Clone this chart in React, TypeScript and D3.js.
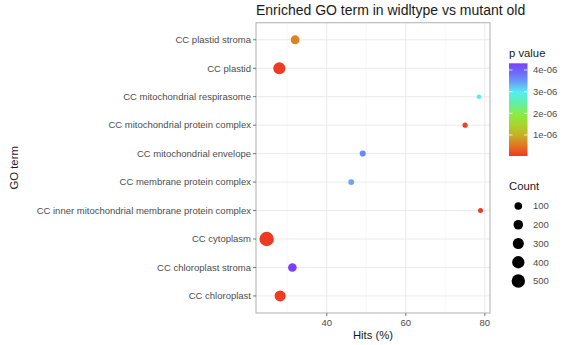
import React from "react";
import * as d3 from "d3";

const terms = [
  "CC plastid stroma",
  "CC plastid",
  "CC mitochondrial respirasome",
  "CC mitochondrial protein complex",
  "CC mitochondrial envelope",
  "CC membrane protein complex",
  "CC inner mitochondrial membrane protein complex",
  "CC cytoplasm",
  "CC chloroplast stroma",
  "CC chloroplast",
];
const hits = [32.0, 28.0, 78.5, 75.0, 49.1, 46.2, 78.9, 24.8, 31.3, 28.2];
const counts = [160, 380, 12, 22, 45, 40, 20, 600, 150, 300];
const pvalues = [0.6e-6, 0.05e-6, 2.95e-6, 0.1e-6, 3.6e-6, 3.4e-6, 0.05e-6, 0.03e-6, 4.3e-6, 0.04e-6];
const xTicks = [40, 60, 80];
const xMinor = [30, 50, 70];
const pTicks = [1e-6, 2e-6, 3e-6, 4e-6];
const pTickLabels = ["1e-06", "2e-06", "3e-06", "4e-06"];
const countBreaks = [100, 200, 300, 400, 500];

const stopPos = [0, 0.12, 0.23, 0.35, 0.46, 0.58, 0.69, 0.8, 0.9, 1];
const stopCol = ["#EE3A22", "#E07A22", "#C6B226", "#A5D82E", "#86EE48", "#5EEFB0", "#58ECF2", "#6A9CF8", "#6E6AF8", "#7A40FA"];

export default function App() {
  const W = 585, H = 345;
  const left = 256, right = 490, top = 22.7, bottom = 313;
  const x = d3.scaleLinear().domain([22.1, 81.3]).range([left, right]);
  const y = d3.scalePoint<string>().domain(terms).range([top, bottom]).padding(0.6);
  const pMin = 0.03e-6, pMax = 4.31e-6;
  const cScale = d3.scaleLinear<string>().domain(stopPos).range(stopCol).clamp(true);
  const color = (p: number) => cScale((p - pMin) / (pMax - pMin));
  const r = (c: number) => 1.45 + 0.235 * Math.sqrt(c);

  const barTop = 63.3, barBottom = 156, barX = 509, barW = 18.5;
  const pScale = d3.scaleLinear().domain([pMin, pMax]).range([barBottom, barTop]);
  const font = "Liberation Sans, Arial, Helvetica, sans-serif";
  const tickFs = 9.5, titleFs = 11.3;

  return (
    <svg width={W} height={H} style={{ position: "absolute", left: 0, top: 0, fontFamily: font }}>
      <defs>
        <linearGradient id="pgrad" x1="0" y1="1" x2="0" y2="0">
          {stopPos.map((o, i) => (
            <stop key={i} offset={o} stopColor={stopCol[i]} />
          ))}
        </linearGradient>
      </defs>
      <rect x={0} y={0} width={W} height={H} fill="#fff" />
      <text x={left} y={15} fontSize={14} fill="#1a1a1a">Enriched GO term in widltype vs mutant old</text>
      {xMinor.map((t) => (
        <line key={"m" + t} x1={x(t)} x2={x(t)} y1={top} y2={bottom} stroke="#F4F4F4" strokeWidth={0.6} />
      ))}
      {xTicks.map((t) => (
        <line key={"g" + t} x1={x(t)} x2={x(t)} y1={top} y2={bottom} stroke="#EBEBEB" strokeWidth={1} />
      ))}
      {terms.map((t) => (
        <line key={"h" + t} x1={left} x2={right} y1={y(t)} y2={y(t)} stroke="#EBEBEB" strokeWidth={1} />
      ))}
      <rect x={left} y={top} width={right - left} height={bottom - top} fill="none" stroke="#BDBDBD" strokeWidth={1.2} />
      {terms.map((t) => (
        <g key={"y" + t}>
          <line x1={left - 3} x2={left} y1={y(t)} y2={y(t)} stroke="#555" strokeWidth={0.8} />
          <text x={left - 5} y={y(t)!} dy="0.35em" textAnchor="end" fontSize={tickFs} fill="#4D4D4D">{t}</text>
        </g>
      ))}
      {xTicks.map((t) => (
        <g key={"x" + t}>
          <line x1={x(t)} x2={x(t)} y1={bottom} y2={bottom + 3} stroke="#555" strokeWidth={0.8} />
          <text x={x(t)} y={bottom + 10} dy="0.35em" textAnchor="middle" fontSize={tickFs} fill="#4D4D4D">{t}</text>
        </g>
      ))}
      <text x={(left + right) / 2} y={335} dy="0.35em" textAnchor="middle" fontSize={titleFs} fill="#1a1a1a">Hits (%)</text>
      <text transform={`translate(14,${(top + bottom) / 2}) rotate(-90)`} dy="0.35em" textAnchor="middle" fontSize={titleFs} fill="#1a1a1a">GO term</text>
      {terms.map((t, i) => (
        <circle key={"p" + t} cx={x(hits[i])} cy={y(t)} r={r(counts[i])} fill={color(pvalues[i])} />
      ))}
      <text x={barX} y={53} dy="0.35em" fontSize={titleFs} fill="#1a1a1a">p value</text>
      <rect x={barX} y={barTop} width={barW} height={barBottom - barTop} fill="url(#pgrad)" />
      {pTicks.map((p, i) => (
        <g key={"pt" + i}>
          <line x1={barX} x2={barX + 3.5} y1={pScale(p)} y2={pScale(p)} stroke="#fff" strokeWidth={0.8} />
          <line x1={barX + barW - 3.5} x2={barX + barW} y1={pScale(p)} y2={pScale(p)} stroke="#fff" strokeWidth={0.8} />
          <text x={533} y={pScale(p)} dy="0.35em" fontSize={tickFs} fill="#4D4D4D">{pTickLabels[i]}</text>
        </g>
      ))}
      <text x={barX} y={186} dy="0.35em" fontSize={titleFs} fill="#1a1a1a">Count</text>
      {countBreaks.map((c, i) => (
        <g key={"c" + c}>
          <circle cx={518.3} cy={206 + i * 18.75} r={r(c)} fill="#000" />
          <text x={533} y={206 + i * 18.75} dy="0.35em" fontSize={tickFs} fill="#4D4D4D">{c}</text>
        </g>
      ))}
    </svg>
  );
}
